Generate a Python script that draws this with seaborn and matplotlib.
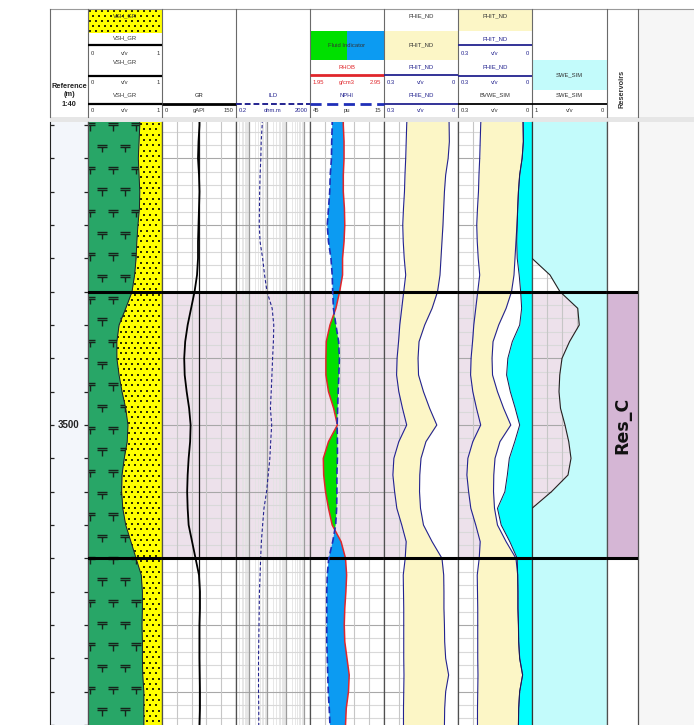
import numpy as np
import pandas as pd
import matplotlib
matplotlib.use("Agg")
import matplotlib.pyplot as plt
from matplotlib import font_manager
from matplotlib.path import Path
from matplotlib.patches import Rectangle
import seaborn as sns

# ---------------- well log samples (0.25 m interval) ----------------
depth = [3495.25, 3495.50, 3495.75, 3496.00, 3496.25, 3496.50, 3496.75, 3497.00,
         3497.25, 3497.50, 3497.75, 3498.00, 3498.25, 3498.50, 3498.75, 3499.00,
         3499.25, 3499.50, 3499.75, 3500.00, 3500.25, 3500.50, 3500.75, 3501.00,
         3501.25, 3501.50, 3501.75, 3502.00, 3502.25, 3502.50, 3502.75, 3503.00,
         3503.25, 3503.50, 3503.75, 3504.00, 3504.25, 3504.50, 3504.75]
vsh = [0.70, 0.70, 0.69, 0.68, 0.69, 0.70, 0.695, 0.675, 0.66, 0.65, 0.63, 0.595, 0.51,
       0.42, 0.39, 0.39, 0.42, 0.46, 0.51, 0.54, 0.53, 0.49, 0.46, 0.455, 0.47, 0.51,
       0.58, 0.65, 0.72, 0.735, 0.735, 0.73, 0.735, 0.735, 0.74, 0.755, 0.755, 0.755, 0.755]
gr = [76, 76, 74, 73, 75, 76, 75, 74, 73, 73, 71, 66, 59, 52, 47, 45, 46, 50, 55, 58,
      57, 54, 52, 51, 52, 54, 61, 68, 75, 77, 77, 76, 76, 76, 76.5, 77, 77, 76, 76]
ild = [5.4, 5.2, 4.6, 4.4, 4.0, 3.8, 3.7, 3.6, 4.0, 5.5, 7.0, 9.5, 18, 22, 21, 19, 17.5,
       16, 14.5, 17, 15, 13.5, 11, 9, 6.5, 5.5, 4.7, 4.3, 4.0, 3.7, 3.6, 3.5, 3.4, 3.3,
       3.3, 3.3, 3.4, 3.4, 3.4]
rhob = [2.40, 2.40, 2.41, 2.41, 2.40, 2.40, 2.415, 2.42, 2.41, 2.39, 2.39, 2.35, 2.30,
        2.22, 2.17, 2.165, 2.165, 2.20, 2.27, 2.32, 2.20, 2.13, 2.135, 2.16, 2.20, 2.25,
        2.37, 2.43, 2.445, 2.435, 2.42, 2.413, 2.42, 2.45, 2.48, 2.47, 2.44, 2.43, 2.43]
nphi = [36.0, 36.0, 36.2, 36.3, 36.8, 37.0, 37.5, 38.0, 37.5, 36.5, 36.0, 35.8, 35.5,
        34.5, 33.4, 33.1, 33.3, 33.6, 33.8, 34.0, 33.9, 33.9, 34.1, 34.1, 34.2, 34.6,
        35.8, 37.4, 38.0, 38.2, 38.2, 38.2, 38.2, 38.0, 37.8, 37.6, 37.2, 36.9, 36.9]
phit = [0.205, 0.208, 0.21, 0.212, 0.215, 0.217, 0.221, 0.224, 0.222, 0.218, 0.212, 0.22,
        0.228, 0.236, 0.241, 0.247, 0.249, 0.24, 0.225, 0.208, 0.24, 0.26, 0.264, 0.257,
        0.248, 0.228, 0.21, 0.214, 0.222, 0.221, 0.22, 0.22, 0.22, 0.22, 0.219, 0.22,
        0.221, 0.221, 0.221]
phie = [0.037, 0.036, 0.035, 0.040, 0.050, 0.055, 0.058, 0.061, 0.065, 0.069, 0.073,
        0.083, 0.105, 0.135, 0.158, 0.162, 0.16, 0.14, 0.115, 0.086, 0.13, 0.15, 0.155,
        0.156, 0.152, 0.14, 0.105, 0.065, 0.058, 0.057, 0.057, 0.055, 0.054, 0.05, 0.038,
        0.05, 0.054, 0.055, 0.055]
bvwe = [0.037, 0.036, 0.035, 0.040, 0.050, 0.055, 0.058, 0.060, 0.062, 0.060, 0.052,
        0.046, 0.042, 0.05, 0.08, 0.098, 0.103, 0.088, 0.068, 0.05, 0.07, 0.092, 0.10,
        0.11, 0.14, 0.125, 0.09, 0.06, 0.058, 0.057, 0.057, 0.055, 0.054, 0.05, 0.038,
        0.05, 0.054, 0.055, 0.055]
swe = [1, 1, 1, 1, 1, 1, 1, 1, 1, 1, 0.76, 0.627, 0.39, 0.37, 0.5, 0.6, 0.63, 0.64,
       0.62, 0.56, 0.51, 0.48, 0.52, 0.74, 1.0, 1, 1, 1, 1, 1, 1, 1, 1, 1, 1, 1, 1, 1, 1]

zone_names = ["Res_C"]
zone_tops = [3498.0]
zone_bases = [3502.0]
depth_labels = [3500]

logs = pd.DataFrame({"DEPTH": depth, "VSH_GR": vsh, "GR": gr, "ILD": ild,
                     "RHOB": rhob, "NPHI": nphi, "PHIT_ND": phit, "PHIE_ND": phie,
                     "BVWE_SIM": bvwe, "SWE_SIM": swe})


# ---------------- styling ----------------
def first_font(families):
    for fam in families:
        try:
            font_manager.findfont(fam, fallback_to_default=False)
            return fam
        except ValueError:
            continue
    return "DejaVu Sans"


NARROW_FAMILY = first_font(["Liberation Sans Narrow", "Arial Narrow"])
HAS_NARROW = NARROW_FAMILY != "DejaVu Sans"
if not HAS_NARROW:
    NARROW_FAMILY = first_font(["Liberation Sans"])
NARROW = [NARROW_FAMILY, "DejaVu Sans"]
HSIZE = 4.7 if HAS_NARROW else 4.2

SHALE = "#28a667"
SAND = "#ffff00"
PINK = "#ede1eb"
RESCOL = "#d5b6d5"
PHIT_Y = "#fcf6c6"
CYAN = "#00ffff"
LCYAN = "#c3fbfb"
BLUE_F = "#0c9bf2"
GREEN_F = "#00e000"
NAVY = "#23238f"
RED = "#e0262b"

W, H = 694, 725
TOP, BOT = 122, 725
EDGES = [50, 88, 162, 236, 310, 384, 458, 532, 607, 638]
PX_PER_M = 200 / 3
D_TOP = 3500 - (425 - TOP) / PX_PER_M
D_BOT = 3500 + (BOT - 425) / PX_PER_M

fig = plt.figure(figsize=(W / 100, H / 100), dpi=100)
fig.patch.set_facecolor("white")


def frac(x0, y0, x1, y1):
    return [x0 / W, 1 - y1 / H, (x1 - x0) / W, (y1 - y0) / H]


# header / frame canvas in pixel units
hdr = fig.add_axes([0, 0, 1, 1])
hdr.set_xlim(0, W)
hdr.set_ylim(H, 0)
hdr.axis("off")


def make_track(i, xlim, vgrid=(), log=False, pink=True, hgrid=True):
    ax = fig.add_axes(frac(EDGES[i], TOP, EDGES[i + 1], BOT))
    if log:
        ax.set_xscale("log")
    ax.set_xlim(*xlim)
    ax.set_ylim(D_BOT, D_TOP)
    ax.tick_params(which="both", left=False, bottom=False, top=False, right=False,
                   labelleft=False, labelbottom=False)
    for side in ("top", "bottom"):
        ax.spines[side].set_visible(False)
    for side in ("left", "right"):
        ax.spines[side].set_color("#505050")
        ax.spines[side].set_linewidth(0.9)
    if pink:
        for t, b in zip(zone_tops, zone_bases):
            ax.axhspan(t, b, color=PINK, lw=0, zorder=0.2)
    if hgrid:
        for d in np.arange(3495.6, 3504.5, 0.2):
            major = abs(d - round(d)) < 1e-6
            ax.axhline(d, color="#a8a8a8" if major else "#d9d9d9", lw=0.8, zorder=0.6)
    for v in vgrid:
        ax.axvline(v, color="#c6c6c6", lw=0.8, zorder=0.6)
    return ax


def curve(ax, col, color, lw=0.8, dashes=None, z=4):
    sns.lineplot(data=logs, x=col, y="DEPTH", sort=False, estimator=None, ax=ax,
                 color=color, lw=lw, zorder=z)
    if dashes:
        ax.lines[-1].set_dashes(dashes)
    ax.set(xlabel="", ylabel="")


def zone_lines(ax):
    for t, b in zip(zone_tops, zone_bases):
        ax.axhline(t, color="black", lw=2.2, zorder=6)
        ax.axhline(b, color="black", lw=2.2, zorder=6)


def stagger_grid(x0, x1, y0, y1, dx, dy):
    pts = []
    for j, y in enumerate(np.arange(y0, y1, dy)):
        off = dx / 2 if j % 2 else 0.0
        for x in np.arange(x0 + off, x1, dx):
            pts.append((x, y))
    return np.array(pts)


shale_marker = Path([(-1, 0.55), (1, 0.55), (-1, 0.12), (1, 0.12), (0, 0.12), (0, -0.9)],
                    [Path.MOVETO, Path.LINETO, Path.MOVETO, Path.LINETO,
                     Path.MOVETO, Path.LINETO])

# ---------------- depth track ----------------
axd = fig.add_axes(frac(EDGES[0], TOP, EDGES[1], BOT))
axd.set_facecolor("#f3f6fb")
axd.set_xlim(0, 1)
axd.set_ylim(D_BOT, D_TOP)
axd.set_xticks([])
axd.set_yticks(np.arange(3495.5, 3504.51, 0.5))
axd.tick_params(axis="y", direction="in", left=True, right=True, length=3, width=0.9,
                labelleft=False, color="#222")
for side in ("top", "bottom"):
    axd.spines[side].set_visible(False)
for side in ("left", "right"):
    axd.spines[side].set_color("#222")
for d in depth_labels:
    axd.text(0.5, d, f"{d:d}", ha="center", va="center", fontsize=7,
             fontweight="bold", family=NARROW, color="#222")

# ---------------- track 1 : VSH lithology ----------------
ax1 = make_track(1, (0, 1), hgrid=False)
shale_poly = ax1.fill_betweenx(logs["DEPTH"], 0, logs["VSH_GR"], color=SHALE, lw=0, zorder=1)
sand_poly = ax1.fill_betweenx(logs["DEPTH"], logs["VSH_GR"], 1, color=SAND, lw=0, zorder=1)
sym = stagger_grid(0.03, 1.0, D_TOP + 0.06, D_BOT + 0.1, 0.31, 0.325)
sc = ax1.scatter(sym[:, 0], sym[:, 1], marker=shale_marker, s=52, facecolors="none",
                 edgecolors="#17231b", linewidths=1.0, zorder=2)
sc.set_clip_path(shale_poly.get_paths()[0], ax1.transData)
sc.set_clip_box(ax1.bbox)
dots = stagger_grid(0.0, 1.0, D_TOP + 0.03, D_BOT, 0.08, 0.08)
sd = ax1.scatter(dots[:, 0], dots[:, 1], marker="s", s=1.6, color="#303000",
                 linewidths=0, zorder=2)
sd.set_clip_path(sand_poly.get_paths()[0], ax1.transData)
sd.set_clip_box(ax1.bbox)
curve(ax1, "VSH_GR", "#222", lw=0.7)
ax1.set_xlim(0, 1)
ax1.set_ylim(D_BOT, D_TOP)
zone_lines(ax1)

# ---------------- track 2 : GR ----------------
ax2 = make_track(2, (0, 150), vgrid=(30, 60, 90, 120))
ax2.axvline(74, color="#111", lw=0.9, zorder=3)
curve(ax2, "GR", "black", lw=1.3)
ax2.set_xlim(0, 150)
ax2.set_ylim(D_BOT, D_TOP)
zone_lines(ax2)

# ---------------- track 3 : ILD (log) ----------------
ax3 = make_track(3, (0.2, 2000), log=True)
for dec in (0.1, 1, 10, 100, 1000):
    for k in range(2, 10):
        v = k * dec
        if 0.2 < v < 2000:
            ax3.axvline(v, color="#e3e3e3", lw=0.6, zorder=0.5)
for v in (1, 10, 100, 1000):
    ax3.axvline(v, color="#9c9c9c", lw=0.9, zorder=0.6)
curve(ax3, "ILD", NAVY, lw=0.8, dashes=(3, 2))
ax3.set_xlim(0.2, 2000)
ax3.set_ylim(D_BOT, D_TOP)
zone_lines(ax3)

# ---------------- track 4 : RHOB / NPHI ----------------
ax4 = make_track(4, (1.95, 2.95), vgrid=(2.15, 2.35, 2.55, 2.75))
ax4n = ax4.twiny()
ax4n.set_xlim(45, 15)
ax4n.set_ylim(D_BOT, D_TOP)
ax4n.axis("off")
# NPHI expressed on the RHOB axis for the crossover shading
pts = ax4n.transData.transform(np.column_stack([logs["NPHI"], logs["DEPTH"]]))
nphi_on_rhob = ax4.transData.inverted().transform(pts)[:, 0]
ax4.fill_betweenx(logs["DEPTH"], nphi_on_rhob, logs["RHOB"],
                  where=nphi_on_rhob <= logs["RHOB"], interpolate=True,
                  color=BLUE_F, lw=0, zorder=1)
ax4.fill_betweenx(logs["DEPTH"], nphi_on_rhob, logs["RHOB"],
                  where=nphi_on_rhob > logs["RHOB"], interpolate=True,
                  color=GREEN_F, lw=0, zorder=1)
curve(ax4, "RHOB", RED, lw=1.1)
curve(ax4n, "NPHI", "#1f2fb8", lw=1.2, dashes=(4, 2))
ax4.set_xlim(1.95, 2.95)
ax4.set_ylim(D_BOT, D_TOP)
ax4n.set_xlim(45, 15)
ax4n.set_ylim(D_BOT, D_TOP)
ax4n.axis("off")
zone_lines(ax4)

# ---------------- track 5 : PHIT / PHIE ----------------
ax5 = make_track(5, (0.3, 0), vgrid=(0.24, 0.18, 0.12, 0.06))
ax5.fill_betweenx(logs["DEPTH"], logs["PHIT_ND"], logs["PHIE_ND"], color=PHIT_Y, lw=0, zorder=1)
ax5.fill_betweenx(logs["DEPTH"], logs["PHIE_ND"], 0, color="white", lw=0, zorder=1)
curve(ax5, "PHIT_ND", NAVY, lw=0.8)
curve(ax5, "PHIE_ND", NAVY, lw=0.8)
ax5.set_xlim(0.3, 0)
ax5.set_ylim(D_BOT, D_TOP)
zone_lines(ax5)

# ---------------- track 6 : PHIT / PHIE / BVWE ----------------
ax6 = make_track(6, (0.3, 0), vgrid=(0.24, 0.18, 0.12, 0.06))
ax6.fill_betweenx(logs["DEPTH"], logs["PHIT_ND"], logs["PHIE_ND"], color=PHIT_Y, lw=0, zorder=1)
ax6.fill_betweenx(logs["DEPTH"], logs["PHIE_ND"], logs["BVWE_SIM"], color="white", lw=0, zorder=1)
ax6.fill_betweenx(logs["DEPTH"], logs["BVWE_SIM"], 0, color=CYAN, lw=0, zorder=1)
curve(ax6, "PHIT_ND", NAVY, lw=0.8)
curve(ax6, "PHIE_ND", NAVY, lw=0.8)
curve(ax6, "BVWE_SIM", "#1a1a50", lw=0.7)
ax6.set_xlim(0.3, 0)
ax6.set_ylim(D_BOT, D_TOP)
zone_lines(ax6)

# ---------------- track 7 : SWE ----------------
ax7 = make_track(7, (1, 0), vgrid=(0.8, 0.6, 0.4, 0.2))
ax7.fill_betweenx(logs["DEPTH"], logs["SWE_SIM"], 0, color=LCYAN, lw=0, zorder=1)
curve(ax7, "SWE_SIM", "#222", lw=0.8)
ax7.set_xlim(1, 0)
ax7.set_ylim(D_BOT, D_TOP)
zone_lines(ax7)

# ---------------- track 8 : reservoir zones ----------------
ax8 = make_track(8, (0, 1), pink=False, hgrid=False)
for name, t, b in zip(zone_names, zone_tops, zone_bases):
    ax8.axhspan(t, b, color=RESCOL, lw=0, zorder=1)
    ax8.text(0.5, (t + b) / 2, name, rotation=90, ha="center", va="center",
             fontsize=12.5, fontweight="bold", color="#111", zorder=3)
zone_lines(ax8)

# ---------------- header ----------------
hdr.add_patch(Rectangle((638, 9), W - 638, H - 9, color="#f6f6f6", lw=0))
hdr.add_patch(Rectangle((50, 117), W - 50, 5, color="#e6e6e6", lw=0))
hdr.plot([50, W], [9, 9], color="#9a9a9a", lw=0.8)
for x in EDGES:
    hdr.plot([x, x], [9, 117], color="#6a6a6a", lw=0.8)


def htext(x, y, s, color="#333", size=HSIZE, ha="center", **kw):
    hdr.text(x, y, s, ha=ha, va="center", color=color, fontsize=size, family=NARROW, **kw)


def hline(x0, x1, y, color, lw, dashes=None):
    ln, = hdr.plot([x0, x1], [y, y], color=color, lw=lw, solid_capstyle="butt")
    if dashes:
        ln.set_dashes(dashes)


def scale_row(x0, x1, y, left, unit, right, color="#333"):
    htext(x0 + 2.5, y, left, color=color, ha="left")
    htext((x0 + x1) / 2, y, unit, color=color)
    htext(x1 - 2.5, y, right, color=color, ha="right")


# depth column
BSIZE = 6.3 if HAS_NARROW else 5.3
htext(69, 86, "Reference", color="#222", size=BSIZE, fontweight="bold")
htext(69, 94, "(m)", color="#222", size=BSIZE, fontweight="bold")
htext(69, 104, "1:40", color="#222", size=BSIZE, fontweight="bold")

# VSH
hdr.add_patch(Rectangle((88, 9), 74, 24, color=SAND, lw=0))
hp = stagger_grid(90, 162, 11, 33, 6, 5)
hdr.scatter(hp[:, 0], hp[:, 1], marker="s", s=1.6, color="#303000", linewidths=0)
htext(125, 16, "VSH_GR")
for yn, yl, ys in [(38, 45, 53), (62, 76, 82), (95, 104, 110)]:
    htext(125, yn, "VSH_GR")
    hline(88, 162, yl, "black", 1.6)
    scale_row(88, 162, ys, "0", "v/v", "1")

# GR
htext(199, 95, "GR", color="#222")
hline(162, 236, 104, "black", 2.0)
scale_row(162, 236, 110, "0", "gAPI", "150")

# ILD
htext(273, 95, "ILD", color=NAVY)
hline(236, 310, 104, NAVY, 1.4, dashes=(3, 1.5))
scale_row(236, 310, 110, "0.2", "ohm.m", "2000", NAVY)

# RHOB / NPHI
hdr.add_patch(Rectangle((310, 31), 37, 29, color=GREEN_F, lw=0))
hdr.add_patch(Rectangle((347, 31), 37, 29, color=BLUE_F, lw=0))
htext(347, 45, "Fluid Indicator", color="#333")
htext(347, 67, "RHOB", color=RED)
hline(310, 384, 75, RED, 2.0)
scale_row(310, 384, 82, "1.95", "g/cm3", "2.95", RED)
htext(347, 95, "NPHI", color=NAVY)
hline(310, 384, 104, "#1f2fb8", 2.0, dashes=(4, 2))
scale_row(310, 384, 110, "45", "pu", "15")

# PHIT / PHIE
htext(421, 16, "PHIE_ND")
hdr.add_patch(Rectangle((384, 31), 74, 29, color=PHIT_Y, lw=0))
htext(421, 45, "PHIT_ND")
htext(421, 67, "PHIT_ND", color=NAVY)
hline(384, 458, 75, NAVY, 1.3)
scale_row(384, 458, 82, "0.3", "v/v", "0", NAVY)
htext(421, 95, "PHIE_ND", color=NAVY)
hline(384, 458, 104, NAVY, 1.3)
scale_row(384, 458, 110, "0.3", "v/v", "0", NAVY)

# PHIT / PHIE / BVWE
hdr.add_patch(Rectangle((458, 9), 74, 22, color=PHIT_Y, lw=0))
htext(495, 16, "PHIT_ND")
htext(495, 39, "PHIT_ND", color=NAVY)
hline(458, 532, 45, NAVY, 1.3)
scale_row(458, 532, 53, "0.3", "v/v", "0", NAVY)
htext(495, 67, "PHIE_ND", color=NAVY)
hline(458, 532, 76, NAVY, 1.3)
scale_row(458, 532, 82, "0.3", "v/v", "0", NAVY)
htext(495, 95, "BVWE_SIM")
hline(458, 532, 104, "black", 1.3)
scale_row(458, 532, 110, "0.3", "v/v", "0")

# SWE
hdr.add_patch(Rectangle((532, 60), 75, 30, color=LCYAN, lw=0))
htext(569.5, 75, "SWE_SIM")
htext(569.5, 95, "SWE_SIM")
hline(532, 607, 104, "black", 1.3)
scale_row(532, 607, 110, "1", "v/v", "0")

# zones
hdr.text(622.5, 89, "Reservoirs", rotation=90, ha="center", va="center",
         fontsize=BSIZE, fontweight="bold", color="#333", family=NARROW)

fig.savefig("out.png", dpi=100)
